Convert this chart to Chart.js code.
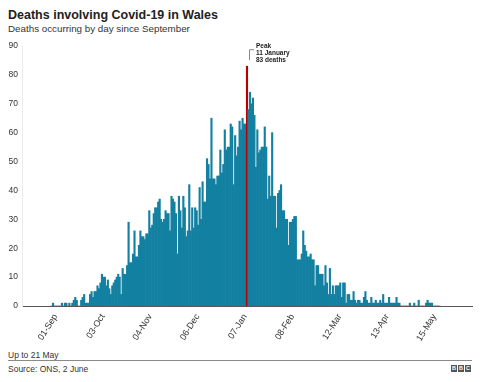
<!DOCTYPE html>
<html>
<head>
<meta charset="utf-8">
<script src="https://cdn.jsdelivr.net/npm/chart.js@4.4.1/dist/chart.umd.min.js"></script>
<style>
html,body{margin:0;padding:0;background:#fff;}
body{width:480px;height:382px;position:relative;overflow:hidden;font-family:"Liberation Sans",Arial,Helvetica,sans-serif;color:#222;}
#title{position:absolute;left:8px;top:8px;font-size:12.5px;font-weight:bold;line-height:14px;white-space:nowrap;}
#sub{position:absolute;left:8px;top:23px;font-size:9.8px;line-height:12px;white-space:nowrap;color:#333;}
#c{position:absolute;left:0;top:0;}
#upto{position:absolute;left:8px;top:350px;font-size:8.5px;line-height:10px;color:#333;}
#rule{position:absolute;left:8px;top:360px;width:464px;height:1px;background:#8a8a8a;}
#source{position:absolute;left:8px;top:364px;font-size:8.5px;line-height:10px;color:#333;}
#bbc{position:absolute;left:451px;top:365px;height:7px;display:flex;gap:1px;}
#bbc span{display:block;width:6px;height:7px;background:#555;color:#fff;font-size:5.5px;font-weight:bold;line-height:7px;text-align:center;}
</style>
</head>
<body>
<div id="title">Deaths involving Covid-19 in Wales</div>
<div id="sub">Deaths occurring by day since September</div>
<canvas id="c" width="480" height="350"></canvas>
<div id="upto">Up to 21 May</div>
<div id="rule"></div>
<div id="source">Source: ONS, 2 June</div>
<div id="bbc"><span>B</span><span>B</span><span>C</span></div>
<script>
// Day index 0 = 1 September 2020, last = 21 May 2021
const deaths = [
  0,1,0,0,0,0,0,1,0,1, 1,0,1,0,1,2,3,2,0,0,
  2,3,4,1,1,1,4,5,3,5, 5,7,6,8,11,10,10,7,9,6,
  4,7,8,9,10,11,10,4,13,11, 11,14,29,15,15,18,26,17,17,21,
  26,24,24,23,25,25,33,27,28,32, 34,34,36,37,30,29,30,33,32,32,
  26,38,37,36,32,18,38,33,27,38, 34,24,26,42,26,34,27,34,33,28,
  41,30,43,36,36,51,49,44,65,44, 44,42,45,45,54,46,49,61,54,55,
  55,63,62,42,59,52,55,64,61,65, 63,63,83,68,74,70,72,66,48,61,
  53,54,55,55,62,55,37,45,38,60, 38,38,27,39,40,42,33,33,30,30,
  21,29,29,30,31,31,16,16,16,18, 26,21,19,17,17,18,16,16,7,14,
  14,11,11,11,7,14,8,4,13,4, 7,4,7,7,7,8,3,8,8,1,
  4,4,2,2,5,2,1,2,2,1, 1,3,5,2,1,1,3,1,1,2,
  1,1,2,1,4,1,1,1,3,1, 1,1,1,3,1,1,0,0,0,0,
  0,0,1,0,0,1,0,0,2,0, 0,0,0,1,2,1,1,1,0,0,
  0,0,0
];
const tickDays = [0,32,64,96,128,160,192,224,256];
const tickLabels = ['01-Sep','03-Oct','04-Nov','06-Dec','07-Jan','08-Feb','12-Mar','13-Apr','15-May'];
const peakDay = 132;
const peakNote = ['Peak','11 January','83 deaths'];
const yTicks = [0,10,20,30,40,50,60,70,80,90];

const points = deaths.map((v,i)=>({x:i,y:v}));
const colours = deaths.map((v,i)=> i===peakDay ? '#B80000' : '#1380A1');

const peakPlugin = {
  id:'peakNote',
  afterDatasetsDraw(chart){
    const ctx = chart.ctx, xs = chart.scales.x, ys = chart.scales.y;
    const px = xs.getPixelForValue(peakDay), py = ys.getPixelForValue(deaths[peakDay]);
    ctx.save();
    ctx.strokeStyle = '#8a8a8a';
    ctx.lineWidth = 1;
    ctx.beginPath();
    ctx.moveTo(Math.round(px)+2.5, py-6);
    ctx.lineTo(Math.round(px)+2.5, py-16.5);
    ctx.lineTo(Math.round(px)+7, py-16.5);
    ctx.stroke();
    ctx.fillStyle = '#222';
    ctx.font = 'bold 6.5px "Liberation Sans", Arial, sans-serif';
    ctx.textBaseline = 'alphabetic';
    ctx.textAlign = 'left';
    peakNote.forEach((t,i)=>ctx.fillText(t, px+9, py-18+i*7));
    ctx.restore();
  }
};

new Chart(document.getElementById('c'), {
  type:'bar',
  data:{datasets:[{data:points, backgroundColor:colours, borderWidth:0, barPercentage:1, categoryPercentage:1}]},
  options:{
    responsive:false,
    animation:false,
    devicePixelRatio:1,
    layout:{padding:{top:46,left:0,right:8,bottom:0}},
    plugins:{legend:{display:false}, tooltip:{enabled:false}},
    scales:{
      x:{
        type:'linear', min:-20, max:284, offset:false,
        grid:{display:false, drawTicks:false},
        border:{display:true, color:'#555', width:1},
        afterBuildTicks(s){ s.ticks = tickDays.map(v=>({value:v})); },
        afterFit(s){ s.height = 44; },
        ticks:{
          autoSkip:false, minRotation:58, maxRotation:58, padding:6, labelOffset:4,
          color:'#333', font:{family:'"Liberation Sans", Arial, sans-serif', size:9},
          callback:(v)=>tickLabels[tickDays.indexOf(v)]
        }
      },
      y:{
        min:0, max:90,
        grid:{display:false, drawTicks:false},
        border:{display:true, color:'#ececec', width:1},
        afterBuildTicks(s){ s.ticks = yTicks.map(v=>({value:v})); },
        afterFit(s){ s.width = 22; },
        ticks:{padding:4, color:'#333', font:{family:'"Liberation Sans", Arial, sans-serif', size:8.5}}
      }
    }
  },
  plugins:[peakPlugin]
});
</script>
</body>
</html>
